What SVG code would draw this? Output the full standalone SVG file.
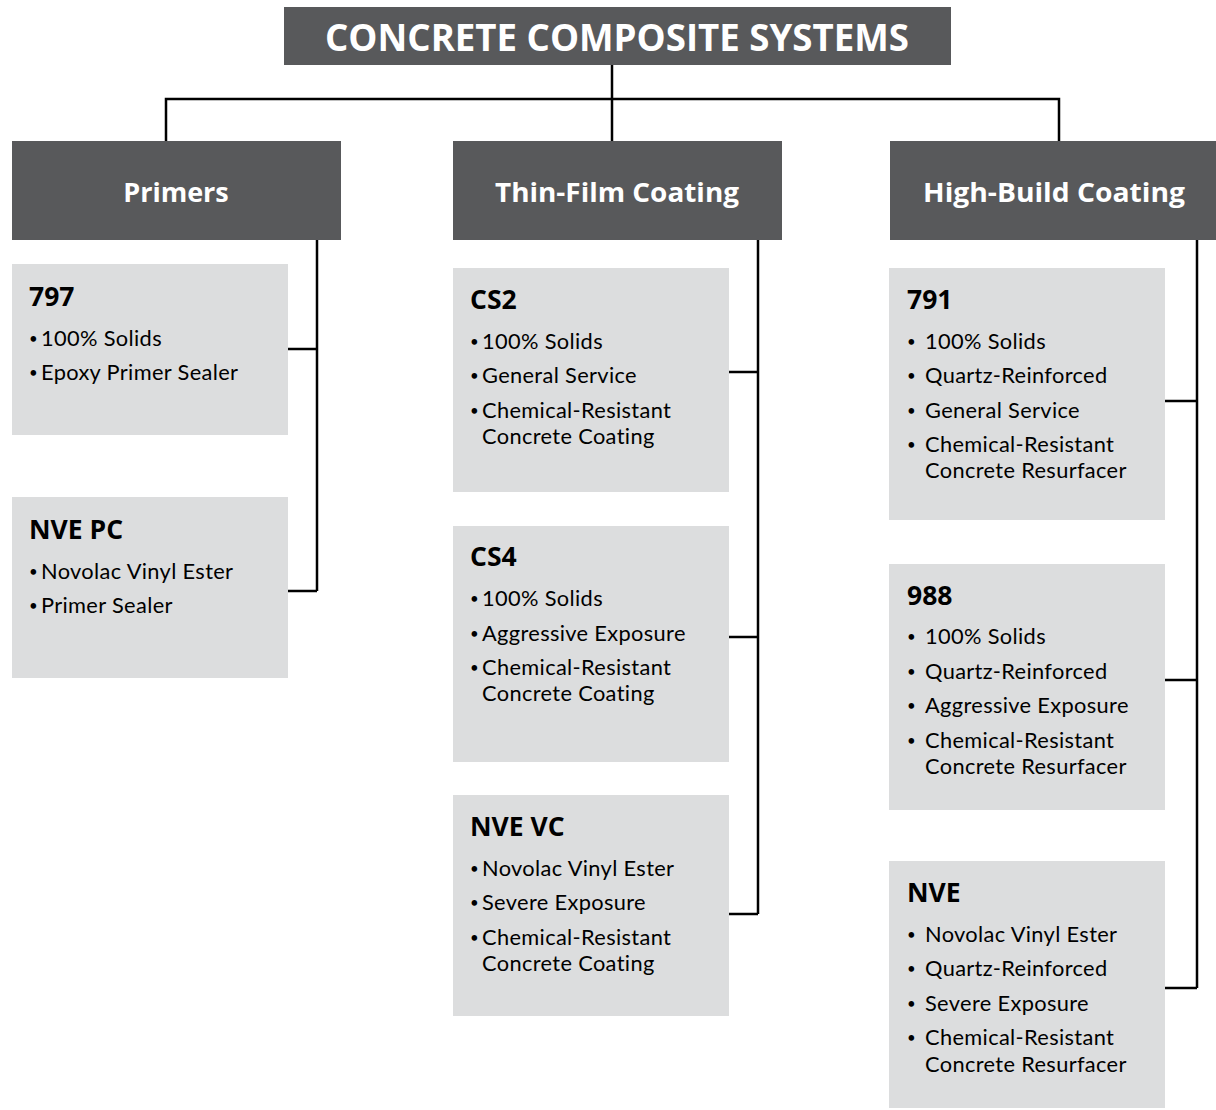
<svg xmlns="http://www.w3.org/2000/svg" width="1216" height="1110" viewBox="0 0 1216 1110">
<style>
.hdr{fill:#58595b}
.box{fill:#dcddde}
.ht{font-family:"Open Sans","Noto Sans",sans-serif;font-weight:bold;fill:#ffffff}
.nt{font-family:"Open Sans","Noto Sans",sans-serif;font-weight:bold;font-size:26.5px;fill:#000}
.bt{font-family:Lato,"Open Sans",sans-serif;font-size:21.8px;letter-spacing:0.35px;fill:#000}
.b{font-size:15px}
.ln{stroke:#000;stroke-width:2.5;fill:none}
</style>
<rect width="1216" height="1110" fill="#fff"/>
<g id="connectors">
<path class="ln" d="M612,65 V141 M166,141 V99 H1059 V141"/>
<path class="ln" d="M317,240 V591 M288,349 H317 M288,591 H317"/>
<path class="ln" d="M758,240 V914 M729,372 H758 M729,637 H758 M729,914 H758"/>
<path class="ln" d="M1197,240 V988 M1165,401 H1197 M1165,680 H1197 M1165,988 H1197"/>
</g>
<g id="title">
<rect class="hdr" x="284" y="7" width="667" height="58"/>
<text class="ht" x="617" y="51" font-size="37" text-anchor="middle" textLength="584" lengthAdjust="spacingAndGlyphs">CONCRETE COMPOSITE SYSTEMS</text>
</g>
<g id="primers">
<rect class="hdr" x="12" y="141" width="329" height="99"/>
<text class="ht" x="176" y="202" font-size="27" text-anchor="middle">Primers</text>
</g>
<g id="thinfilm">
<rect class="hdr" x="453" y="141" width="329" height="99"/>
<text class="ht" x="617" y="202" font-size="27" text-anchor="middle" textLength="244" lengthAdjust="spacingAndGlyphs">Thin-Film Coating</text>
</g>
<g id="highbuild">
<rect class="hdr" x="890" y="141" width="326" height="99"/>
<text class="ht" x="1054" y="202" font-size="27" text-anchor="middle" textLength="262" lengthAdjust="spacingAndGlyphs">High-Build Coating</text>
</g>
<g id="p797">
<rect class="box" x="12" y="264" width="276" height="171"/>
<text class="nt" x="29" y="306">797</text>
<text class="bt" x="29" y="344"><tspan class="b">•</tspan><tspan x="41" y="346">100% Solids</tspan></text>
<text class="bt" x="29" y="378"><tspan class="b">•</tspan><tspan x="41" y="380">Epoxy Primer Sealer</tspan></text>
</g>
<g id="nvepc">
<rect class="box" x="12" y="497" width="276" height="181"/>
<text class="nt" x="29" y="539">NVE PC</text>
<text class="bt" x="29" y="577"><tspan class="b">•</tspan><tspan x="41" y="579">Novolac Vinyl Ester</tspan></text>
<text class="bt" x="29" y="611"><tspan class="b">•</tspan><tspan x="41" y="613">Primer Sealer</tspan></text>
</g>
<g id="cs2">
<rect class="box" x="453" y="268" width="276" height="224"/>
<text class="nt" x="470" y="309">CS2</text>
<text class="bt" x="470" y="347"><tspan class="b">•</tspan><tspan x="482" y="349">100% Solids</tspan></text>
<text class="bt" x="470" y="381"><tspan class="b">•</tspan><tspan x="482" y="383">General Service</tspan></text>
<text class="bt" x="470" y="416"><tspan class="b">•</tspan><tspan x="482" y="418">Chemical-Resistant</tspan><tspan x="482" y="444">Concrete Coating</tspan></text>
</g>
<g id="cs4">
<rect class="box" x="453" y="526" width="276" height="236"/>
<text class="nt" x="470" y="566">CS4</text>
<text class="bt" x="470" y="604"><tspan class="b">•</tspan><tspan x="482" y="606">100% Solids</tspan></text>
<text class="bt" x="470" y="639"><tspan class="b">•</tspan><tspan x="482" y="641">Aggressive Exposure</tspan></text>
<text class="bt" x="470" y="673"><tspan class="b">•</tspan><tspan x="482" y="675">Chemical-Resistant</tspan><tspan x="482" y="701">Concrete Coating</tspan></text>
</g>
<g id="nvevc">
<rect class="box" x="453" y="795" width="276" height="221"/>
<text class="nt" x="470" y="836">NVE VC</text>
<text class="bt" x="470" y="874"><tspan class="b">•</tspan><tspan x="482" y="876">Novolac Vinyl Ester</tspan></text>
<text class="bt" x="470" y="908"><tspan class="b">•</tspan><tspan x="482" y="910">Severe Exposure</tspan></text>
<text class="bt" x="470" y="943"><tspan class="b">•</tspan><tspan x="482" y="945">Chemical-Resistant</tspan><tspan x="482" y="971">Concrete Coating</tspan></text>
</g>
<g id="h791">
<rect class="box" x="889" y="268" width="276" height="252"/>
<text class="nt" x="907" y="309">791</text>
<text class="bt" x="907" y="347"><tspan class="b">•</tspan><tspan x="925" y="349">100% Solids</tspan></text>
<text class="bt" x="907" y="381"><tspan class="b">•</tspan><tspan x="925" y="383">Quartz-Reinforced</tspan></text>
<text class="bt" x="907" y="416"><tspan class="b">•</tspan><tspan x="925" y="418">General Service</tspan></text>
<text class="bt" x="907" y="450"><tspan class="b">•</tspan><tspan x="925" y="452">Chemical-Resistant</tspan><tspan x="925" y="478">Concrete Resurfacer</tspan></text>
</g>
<g id="h988">
<rect class="box" x="889" y="564" width="276" height="246"/>
<text class="nt" x="907" y="605">988</text>
<text class="bt" x="907" y="642"><tspan class="b">•</tspan><tspan x="925" y="644">100% Solids</tspan></text>
<text class="bt" x="907" y="677"><tspan class="b">•</tspan><tspan x="925" y="679">Quartz-Reinforced</tspan></text>
<text class="bt" x="907" y="711"><tspan class="b">•</tspan><tspan x="925" y="713">Aggressive Exposure</tspan></text>
<text class="bt" x="907" y="746"><tspan class="b">•</tspan><tspan x="925" y="748">Chemical-Resistant</tspan><tspan x="925" y="774">Concrete Resurfacer</tspan></text>
</g>
<g id="hnve">
<rect class="box" x="889" y="861" width="276" height="247"/>
<text class="nt" x="907" y="902">NVE</text>
<text class="bt" x="907" y="940"><tspan class="b">•</tspan><tspan x="925" y="942">Novolac Vinyl Ester</tspan></text>
<text class="bt" x="907" y="974"><tspan class="b">•</tspan><tspan x="925" y="976">Quartz-Reinforced</tspan></text>
<text class="bt" x="907" y="1009"><tspan class="b">•</tspan><tspan x="925" y="1011">Severe Exposure</tspan></text>
<text class="bt" x="907" y="1043"><tspan class="b">•</tspan><tspan x="925" y="1045">Chemical-Resistant</tspan><tspan x="925" y="1072">Concrete Resurfacer</tspan></text>
</g>
</svg>
